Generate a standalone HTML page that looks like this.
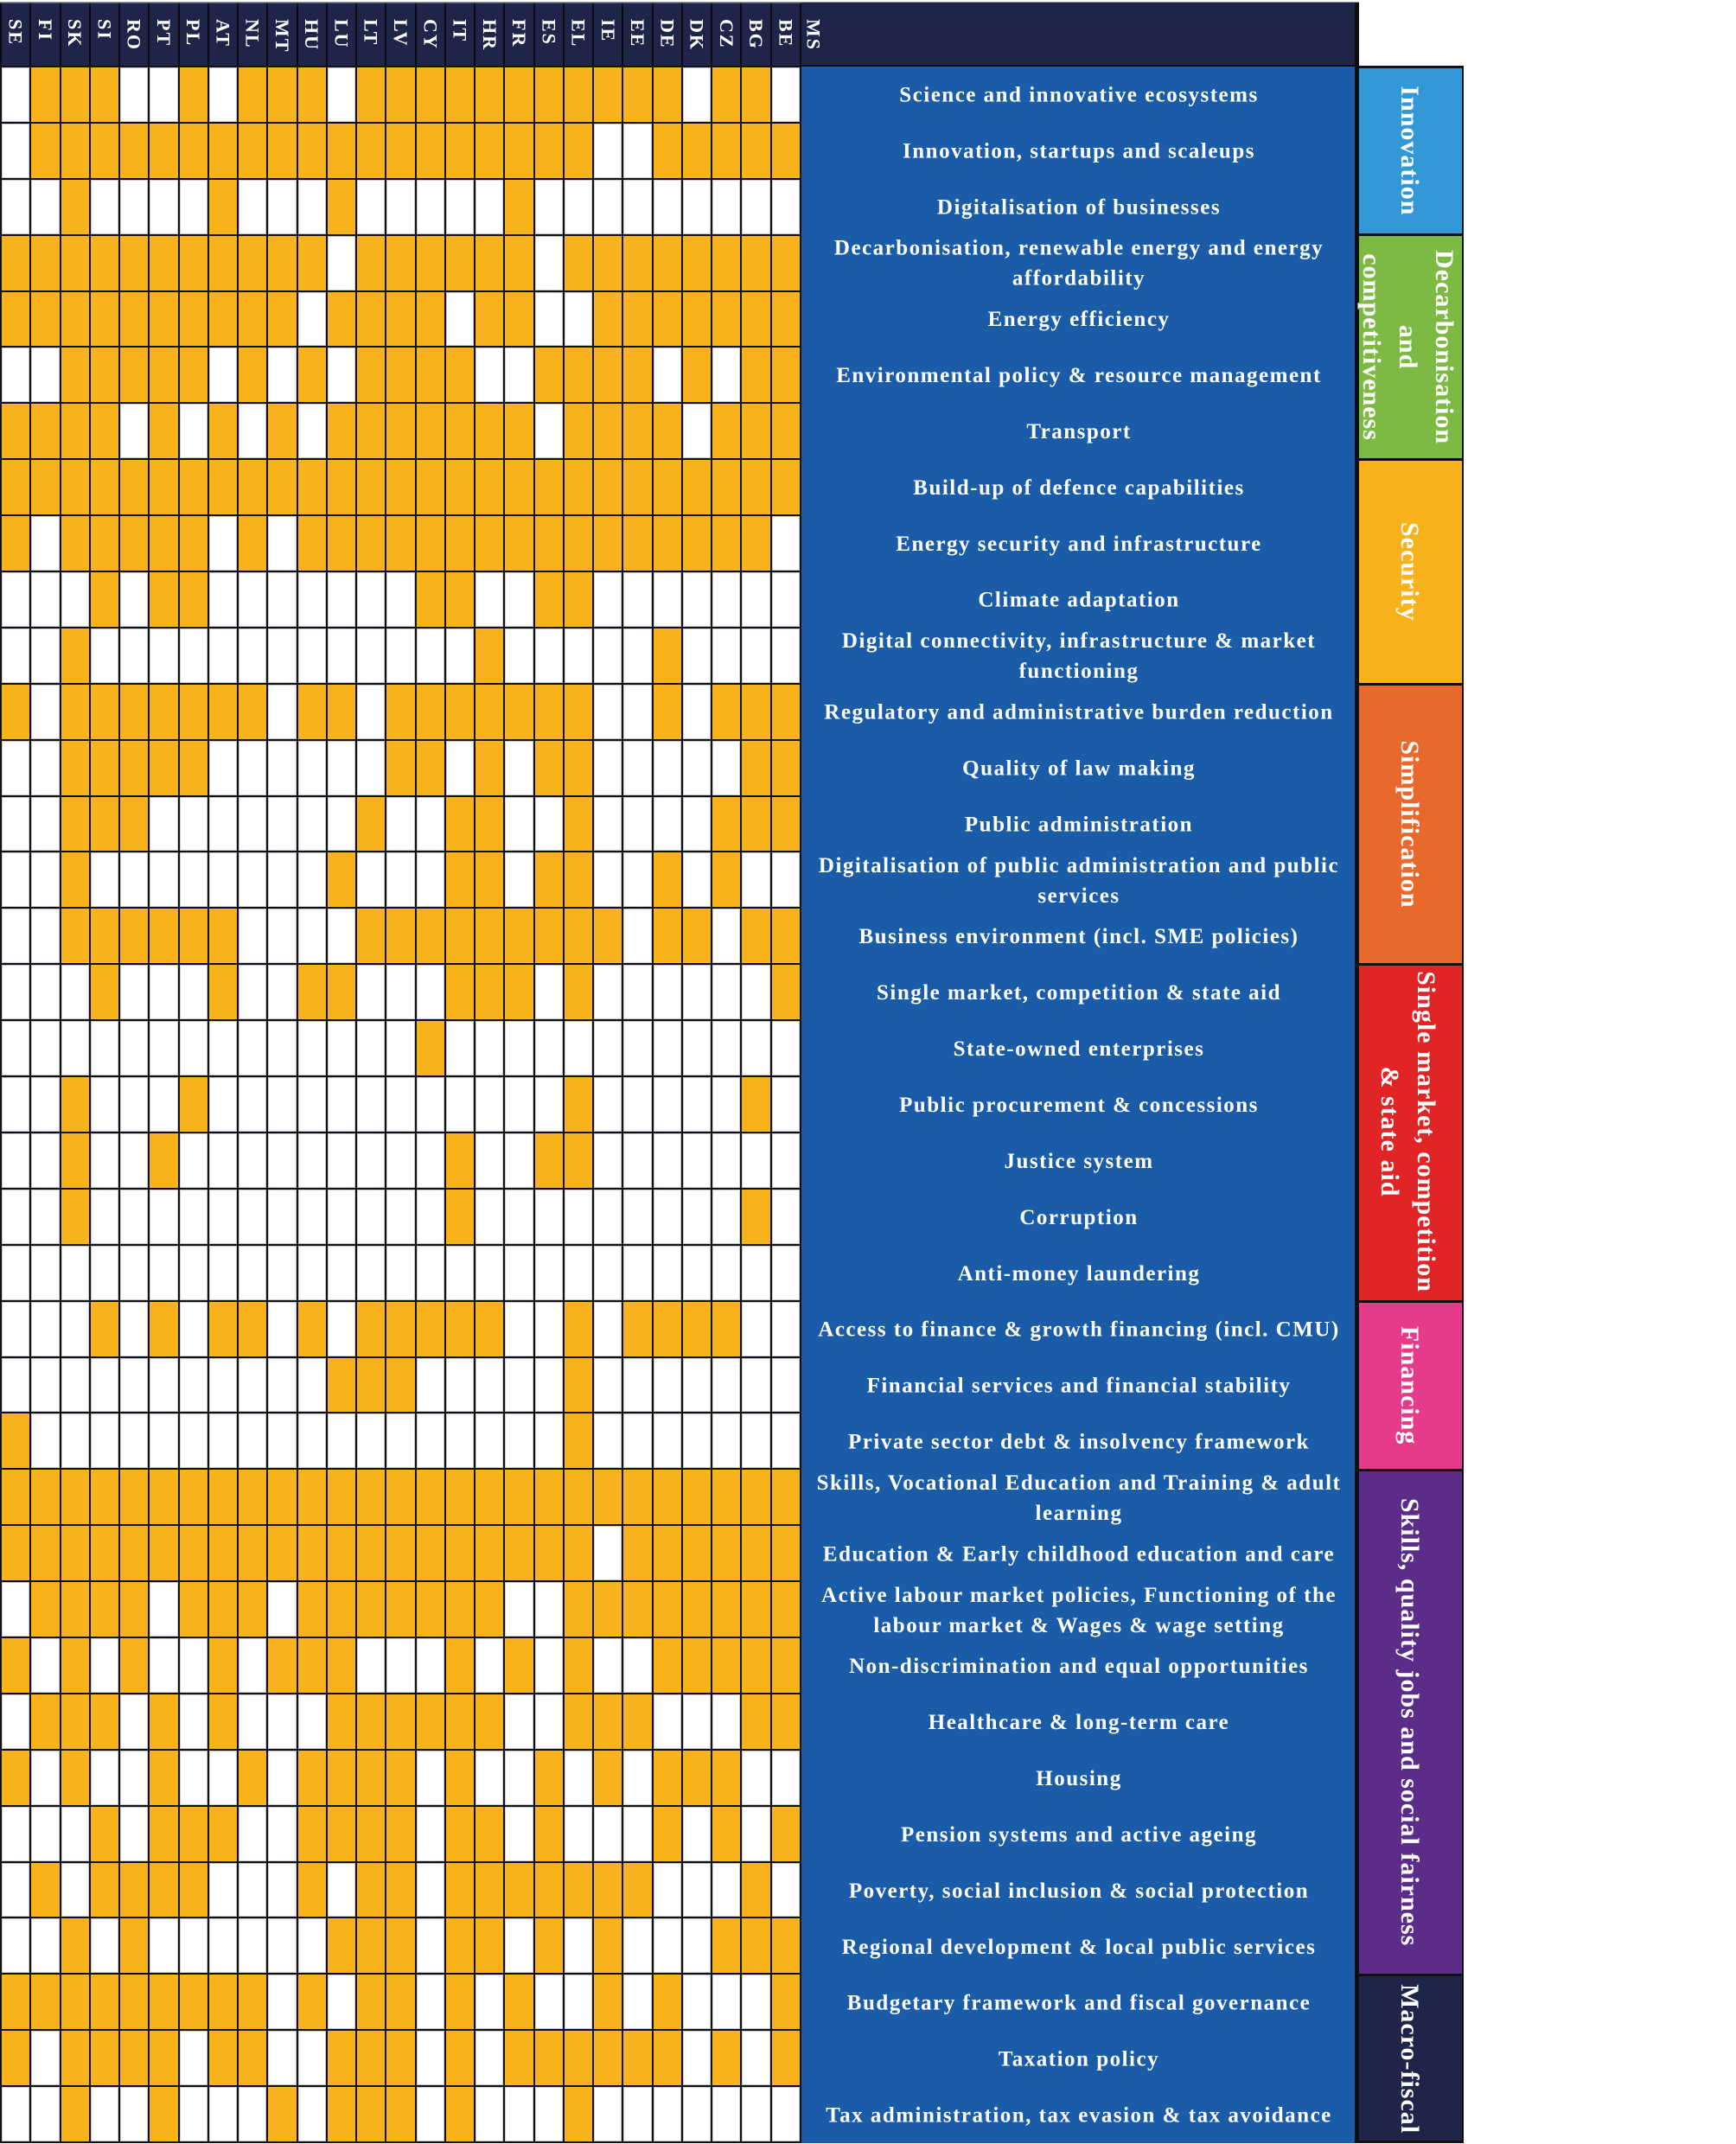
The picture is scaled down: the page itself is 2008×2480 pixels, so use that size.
<!DOCTYPE html>
<html><head><meta charset="utf-8">
<style>
*{margin:0;padding:0;box-sizing:border-box}
html,body{width:2008px;height:2480px;background:#fff;overflow:hidden}
body{position:relative}
#hg{position:absolute;left:0;top:3px;width:927px;height:73px;display:grid;grid-template-columns:repeat(27,1fr);column-gap:2px;padding:0 2px;background:#0a0a10}
#hg i{background:#1e2548;display:block}
#g{position:absolute;left:0;top:76px;width:927px;height:2403px;display:grid;grid-template-columns:repeat(27,1fr);grid-template-rows:repeat(37,1fr);gap:2px;padding:2px;background:#111}
#g i{background:#fff;display:block;box-shadow:inset 0 0 0 1px #c9ccd6}
#g b{background:#f8b21b;display:block}
svg{position:absolute;left:0;top:0}
.l{font-family:"Liberation Serif",serif;font-weight:bold;font-size:25px;fill:#fff;letter-spacing:1.5px;text-anchor:middle;white-space:pre}
.c{font-family:"Liberation Serif",serif;font-weight:bold;font-size:30px;fill:#fff;letter-spacing:1px;text-anchor:middle;white-space:pre}
.h{font-family:"Liberation Serif",serif;font-weight:bold;font-size:22px;fill:#fff;letter-spacing:2px}
</style></head><body>
<div id="hg"><i></i><i></i><i></i><i></i><i></i><i></i><i></i><i></i><i></i><i></i><i></i><i></i><i></i><i></i><i></i><i></i><i></i><i></i><i></i><i></i><i></i><i></i><i></i><i></i><i></i><i></i><i></i></div>
<div id="g">
<i></i><b></b><b></b><b></b><i></i><i></i><b></b><i></i><b></b><b></b><b></b><i></i><b></b><b></b><b></b><b></b><b></b><b></b><b></b><b></b><b></b><b></b><b></b><i></i><b></b><b></b><i></i>
<i></i><b></b><b></b><b></b><b></b><b></b><b></b><b></b><b></b><b></b><b></b><b></b><b></b><b></b><b></b><b></b><b></b><b></b><b></b><b></b><i></i><i></i><b></b><b></b><b></b><b></b><b></b>
<i></i><i></i><b></b><i></i><i></i><i></i><i></i><b></b><i></i><i></i><i></i><b></b><i></i><i></i><i></i><i></i><i></i><b></b><i></i><i></i><i></i><i></i><i></i><i></i><i></i><i></i><i></i>
<b></b><b></b><b></b><b></b><b></b><b></b><b></b><b></b><b></b><b></b><b></b><i></i><b></b><b></b><b></b><b></b><b></b><b></b><i></i><b></b><b></b><b></b><b></b><b></b><b></b><b></b><b></b>
<b></b><b></b><b></b><b></b><b></b><b></b><b></b><b></b><b></b><b></b><i></i><b></b><b></b><b></b><b></b><i></i><b></b><b></b><i></i><i></i><b></b><b></b><b></b><b></b><b></b><b></b><b></b>
<i></i><i></i><b></b><b></b><b></b><b></b><b></b><i></i><b></b><i></i><b></b><i></i><b></b><b></b><b></b><b></b><i></i><i></i><b></b><b></b><b></b><b></b><i></i><b></b><i></i><b></b><b></b>
<b></b><b></b><b></b><b></b><i></i><b></b><i></i><b></b><i></i><b></b><i></i><b></b><b></b><b></b><b></b><b></b><b></b><b></b><i></i><b></b><b></b><b></b><b></b><i></i><b></b><b></b><b></b>
<b></b><b></b><b></b><b></b><b></b><b></b><b></b><b></b><b></b><b></b><b></b><b></b><b></b><b></b><b></b><b></b><b></b><b></b><b></b><b></b><b></b><b></b><b></b><b></b><b></b><b></b><b></b>
<b></b><i></i><b></b><b></b><b></b><b></b><b></b><i></i><b></b><i></i><b></b><b></b><b></b><b></b><b></b><b></b><b></b><b></b><b></b><b></b><b></b><b></b><b></b><b></b><b></b><b></b><i></i>
<i></i><i></i><i></i><b></b><i></i><b></b><b></b><i></i><i></i><i></i><i></i><i></i><i></i><i></i><b></b><b></b><i></i><i></i><b></b><b></b><i></i><i></i><i></i><i></i><i></i><i></i><i></i>
<i></i><i></i><b></b><i></i><i></i><i></i><i></i><i></i><i></i><i></i><i></i><i></i><i></i><i></i><i></i><i></i><b></b><i></i><i></i><i></i><i></i><i></i><b></b><i></i><i></i><i></i><i></i>
<b></b><i></i><b></b><b></b><b></b><b></b><b></b><b></b><b></b><i></i><b></b><b></b><i></i><b></b><b></b><b></b><b></b><b></b><b></b><b></b><i></i><i></i><b></b><i></i><b></b><b></b><b></b>
<i></i><i></i><b></b><b></b><b></b><b></b><b></b><i></i><i></i><i></i><i></i><i></i><i></i><b></b><b></b><i></i><b></b><i></i><b></b><b></b><i></i><i></i><i></i><i></i><i></i><b></b><b></b>
<i></i><i></i><b></b><b></b><b></b><i></i><i></i><i></i><i></i><i></i><i></i><i></i><b></b><i></i><i></i><b></b><b></b><i></i><i></i><b></b><i></i><i></i><i></i><i></i><b></b><b></b><b></b>
<i></i><i></i><b></b><i></i><i></i><i></i><i></i><i></i><i></i><i></i><i></i><b></b><i></i><i></i><i></i><b></b><b></b><i></i><b></b><b></b><i></i><i></i><b></b><i></i><b></b><i></i><i></i>
<i></i><i></i><b></b><b></b><b></b><b></b><b></b><b></b><i></i><i></i><i></i><i></i><b></b><b></b><b></b><b></b><b></b><b></b><b></b><b></b><b></b><i></i><b></b><b></b><i></i><b></b><b></b>
<i></i><i></i><i></i><b></b><i></i><i></i><i></i><b></b><i></i><i></i><b></b><b></b><i></i><i></i><i></i><b></b><b></b><b></b><i></i><b></b><i></i><i></i><i></i><i></i><i></i><i></i><b></b>
<i></i><i></i><i></i><i></i><i></i><i></i><i></i><i></i><i></i><i></i><i></i><i></i><i></i><i></i><b></b><i></i><i></i><i></i><i></i><i></i><i></i><i></i><i></i><i></i><i></i><i></i><i></i>
<i></i><i></i><b></b><i></i><i></i><i></i><b></b><i></i><i></i><i></i><i></i><i></i><i></i><i></i><i></i><i></i><i></i><i></i><i></i><b></b><i></i><i></i><i></i><i></i><i></i><b></b><i></i>
<i></i><i></i><b></b><i></i><i></i><b></b><i></i><i></i><i></i><i></i><i></i><i></i><i></i><i></i><i></i><b></b><i></i><i></i><b></b><b></b><i></i><i></i><i></i><i></i><i></i><i></i><i></i>
<i></i><i></i><b></b><i></i><i></i><i></i><i></i><i></i><i></i><i></i><i></i><i></i><i></i><i></i><i></i><b></b><i></i><i></i><i></i><i></i><i></i><i></i><i></i><i></i><i></i><b></b><i></i>
<i></i><i></i><i></i><i></i><i></i><i></i><i></i><i></i><i></i><i></i><i></i><i></i><i></i><i></i><i></i><i></i><i></i><i></i><i></i><i></i><i></i><i></i><i></i><i></i><i></i><i></i><i></i>
<i></i><i></i><i></i><b></b><i></i><b></b><i></i><b></b><b></b><i></i><b></b><i></i><b></b><b></b><b></b><b></b><b></b><i></i><i></i><b></b><i></i><b></b><b></b><b></b><b></b><i></i><i></i>
<i></i><i></i><i></i><i></i><i></i><i></i><i></i><i></i><i></i><i></i><i></i><b></b><b></b><b></b><i></i><i></i><i></i><i></i><i></i><b></b><i></i><i></i><i></i><i></i><i></i><i></i><i></i>
<b></b><i></i><i></i><i></i><i></i><i></i><i></i><i></i><i></i><i></i><i></i><i></i><i></i><i></i><i></i><i></i><i></i><i></i><i></i><b></b><i></i><i></i><i></i><i></i><i></i><i></i><i></i>
<b></b><b></b><b></b><b></b><b></b><b></b><b></b><b></b><b></b><b></b><b></b><b></b><b></b><b></b><b></b><b></b><b></b><b></b><b></b><b></b><b></b><b></b><b></b><b></b><b></b><b></b><b></b>
<b></b><b></b><b></b><b></b><b></b><b></b><b></b><b></b><b></b><b></b><b></b><b></b><b></b><b></b><b></b><b></b><b></b><b></b><b></b><b></b><i></i><b></b><b></b><b></b><b></b><b></b><b></b>
<i></i><b></b><b></b><b></b><b></b><i></i><b></b><b></b><b></b><i></i><b></b><b></b><b></b><b></b><b></b><b></b><b></b><i></i><i></i><b></b><b></b><b></b><b></b><b></b><b></b><b></b><b></b>
<b></b><i></i><b></b><i></i><b></b><i></i><i></i><b></b><i></i><b></b><b></b><b></b><i></i><i></i><i></i><b></b><i></i><b></b><i></i><b></b><i></i><i></i><b></b><b></b><b></b><b></b><b></b>
<i></i><b></b><b></b><b></b><i></i><b></b><i></i><b></b><i></i><i></i><i></i><b></b><b></b><b></b><b></b><b></b><b></b><i></i><i></i><b></b><b></b><b></b><i></i><i></i><i></i><b></b><b></b>
<b></b><i></i><b></b><i></i><i></i><b></b><i></i><i></i><b></b><i></i><b></b><b></b><b></b><b></b><i></i><b></b><i></i><i></i><b></b><i></i><b></b><i></i><b></b><b></b><b></b><i></i><i></i>
<i></i><i></i><i></i><b></b><i></i><b></b><b></b><b></b><i></i><i></i><b></b><b></b><b></b><b></b><i></i><b></b><b></b><i></i><b></b><i></i><i></i><i></i><b></b><i></i><b></b><i></i><b></b>
<i></i><b></b><i></i><b></b><b></b><b></b><b></b><i></i><i></i><i></i><b></b><i></i><b></b><b></b><i></i><b></b><b></b><b></b><b></b><b></b><b></b><b></b><i></i><i></i><i></i><b></b><i></i>
<i></i><i></i><b></b><i></i><b></b><i></i><i></i><i></i><i></i><i></i><i></i><b></b><b></b><b></b><i></i><b></b><b></b><i></i><b></b><i></i><b></b><i></i><i></i><i></i><b></b><b></b><b></b>
<b></b><b></b><b></b><b></b><b></b><b></b><b></b><b></b><b></b><i></i><b></b><i></i><b></b><b></b><i></i><b></b><i></i><b></b><i></i><i></i><b></b><i></i><b></b><i></i><i></i><i></i><b></b>
<b></b><i></i><b></b><b></b><b></b><b></b><i></i><b></b><b></b><i></i><i></i><b></b><b></b><b></b><i></i><b></b><i></i><b></b><b></b><b></b><b></b><b></b><b></b><i></i><b></b><i></i><b></b>
<i></i><i></i><b></b><i></i><i></i><b></b><i></i><i></i><i></i><b></b><i></i><b></b><b></b><b></b><i></i><b></b><i></i><i></i><i></i><b></b><i></i><i></i><i></i><i></i><i></i><i></i><i></i>
</div>
<svg width="2008" height="2480" viewBox="0 0 2008 2480">
<rect x="0" y="2" width="1572" height="1.5" fill="#8d91a3"/>
<rect x="927" y="3" width="643" height="73" fill="#1e2548"/>
<rect x="925" y="75" width="645" height="2" fill="#0a0a10"/>
<rect x="927" y="77" width="641" height="2402" fill="#1a5ca8"/>
<rect x="1567" y="3" width="5" height="2476" fill="#0d0d12"/>
<rect x="1570" y="76" width="123" height="2403" fill="#111"/>
<rect x="1572" y="79" width="119" height="191" fill="#3399d6"/>
<rect x="1572" y="273" width="119" height="257" fill="#7dba43"/>
<rect x="1572" y="533" width="119" height="257" fill="#f8b21b"/>
<rect x="1572" y="793" width="119" height="321" fill="#e8692b"/>
<rect x="1572" y="1117" width="119" height="387" fill="#e12526"/>
<rect x="1572" y="1507" width="119" height="192" fill="#e63a8a"/>
<rect x="1572" y="1702" width="119" height="581" fill="#5c2d88"/>
<rect x="1572" y="2286" width="119" height="190" fill="#1e2548"/>

<g class="h">
<text transform="translate(18.1,22) rotate(90)" y="7.5">SE</text>
<text transform="translate(52.4,22) rotate(90)" y="7.5">FI</text>
<text transform="translate(86.6,22) rotate(90)" y="7.5">SK</text>
<text transform="translate(120.9,22) rotate(90)" y="7.5">SI</text>
<text transform="translate(155.2,22) rotate(90)" y="7.5">RO</text>
<text transform="translate(189.4,22) rotate(90)" y="7.5">PT</text>
<text transform="translate(223.7,22) rotate(90)" y="7.5">PL</text>
<text transform="translate(257.9,22) rotate(90)" y="7.5">AT</text>
<text transform="translate(292.2,22) rotate(90)" y="7.5">NL</text>
<text transform="translate(326.5,22) rotate(90)" y="7.5">MT</text>
<text transform="translate(360.7,22) rotate(90)" y="7.5">HU</text>
<text transform="translate(395.0,22) rotate(90)" y="7.5">LU</text>
<text transform="translate(429.2,22) rotate(90)" y="7.5">LT</text>
<text transform="translate(463.5,22) rotate(90)" y="7.5">LV</text>
<text transform="translate(497.8,22) rotate(90)" y="7.5">CY</text>
<text transform="translate(532.0,22) rotate(90)" y="7.5">IT</text>
<text transform="translate(566.3,22) rotate(90)" y="7.5">HR</text>
<text transform="translate(600.5,22) rotate(90)" y="7.5">FR</text>
<text transform="translate(634.8,22) rotate(90)" y="7.5">ES</text>
<text transform="translate(669.1,22) rotate(90)" y="7.5">EL</text>
<text transform="translate(703.3,22) rotate(90)" y="7.5">IE</text>
<text transform="translate(737.6,22) rotate(90)" y="7.5">EE</text>
<text transform="translate(771.8,22) rotate(90)" y="7.5">DE</text>
<text transform="translate(806.1,22) rotate(90)" y="7.5">DK</text>
<text transform="translate(840.4,22) rotate(90)" y="7.5">CZ</text>
<text transform="translate(874.6,22) rotate(90)" y="7.5">BG</text>
<text transform="translate(908.9,22) rotate(90)" y="7.5">BE</text>
<text transform="translate(941,22) rotate(90)" y="7.5">MS</text>
</g>

<g class="l">
<text x="1248" y="117.5">Science and innovative ecosystems</text>
<text x="1248" y="182.4">Innovation, startups and scaleups</text>
<text x="1248" y="247.3">Digitalisation of businesses</text>
<text x="1248" y="294.7">Decarbonisation, renewable energy and energy</text>
<text x="1248" y="329.7">affordability</text>
<text x="1248" y="377.1">Energy efficiency</text>
<text x="1248" y="442.1">Environmental policy &amp; resource management</text>
<text x="1248" y="507.0">Transport</text>
<text x="1248" y="571.9">Build-up of defence capabilities</text>
<text x="1248" y="636.8">Energy security and infrastructure</text>
<text x="1248" y="701.7">Climate adaptation</text>
<text x="1248" y="749.2">Digital connectivity, infrastructure &amp; market</text>
<text x="1248" y="784.2">functioning</text>
<text x="1248" y="831.6">Regulatory and administrative burden reduction</text>
<text x="1248" y="896.5">Quality of law making</text>
<text x="1248" y="961.4">Public administration</text>
<text x="1248" y="1008.8">Digitalisation of  public administration and public</text>
<text x="1248" y="1043.8">services</text>
<text x="1248" y="1091.2">Business environment (incl. SME policies)</text>
<text x="1248" y="1156.2">Single market, competition &amp;  state aid</text>
<text x="1248" y="1221.1">State-owned enterprises</text>
<text x="1248" y="1286.0">Public procurement &amp; concessions</text>
<text x="1248" y="1350.9">Justice system</text>
<text x="1248" y="1415.8">Corruption</text>
<text x="1248" y="1480.8">Anti-money laundering</text>
<text x="1248" y="1545.7">Access to finance &amp; growth financing (incl. CMU)</text>
<text x="1248" y="1610.6">Financial services and financial stability</text>
<text x="1248" y="1675.5">Private sector debt &amp; insolvency framework</text>
<text x="1248" y="1722.9">Skills, Vocational Education and Training &amp; adult</text>
<text x="1248" y="1757.9">learning</text>
<text x="1248" y="1805.4">Education &amp; Early childhood education and care</text>
<text x="1248" y="1852.8">Active labour market policies, Functioning of the</text>
<text x="1248" y="1887.8">labour market &amp; Wages &amp; wage setting</text>
<text x="1248" y="1935.2">Non-discrimination and equal opportunities</text>
<text x="1248" y="2000.1">Healthcare &amp; long-term care</text>
<text x="1248" y="2065.0">Housing</text>
<text x="1248" y="2129.9">Pension systems  and active ageing</text>
<text x="1248" y="2194.9">Poverty, social inclusion &amp;  social protection</text>
<text x="1248" y="2259.8">Regional development &amp; local public services</text>
<text x="1248" y="2324.7">Budgetary framework and fiscal governance</text>
<text x="1248" y="2389.6">Taxation policy</text>
<text x="1248" y="2454.5">Tax administration, tax evasion &amp;  tax avoidance</text>
</g>

<g class="c">
<text transform="translate(1631,174.4) rotate(90)" y="10">Innovation</text>
<text transform="translate(1629,401.6) rotate(90)" y="-32">Decarbonisation</text>
<text transform="translate(1629,401.6) rotate(90)" y="10">and</text>
<text transform="translate(1629,401.6) rotate(90)" y="52">competitiveness</text>
<text transform="translate(1631,661.3) rotate(90)" y="10">Security</text>
<text transform="translate(1631,953.4) rotate(90)" y="10">Simplification</text>
<text transform="translate(1629,1309) rotate(90)" y="-11">Single market, competition</text>
<text transform="translate(1629,1309) rotate(90)" y="31">&amp; state aid</text>
<text transform="translate(1631,1602.6) rotate(90)" y="10">Financing</text>
<text transform="translate(1631,1992.1) rotate(90)" y="10">Skills, quality jobs and social fairness</text>
<text transform="translate(1631,2381.6) rotate(90)" y="10">Macro-fiscal</text>
</g>
</svg>
</body></html>
